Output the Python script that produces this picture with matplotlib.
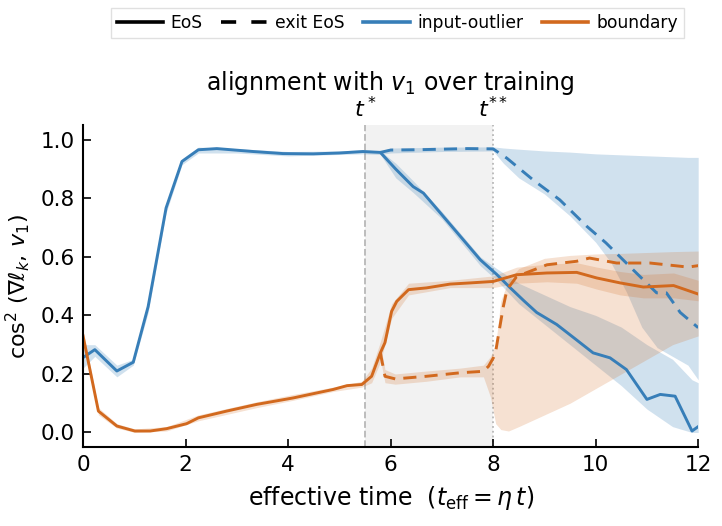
"""Alignment of per-sample gradients with the top Hessian direction over training."""
import matplotlib

matplotlib.use("Agg")
import matplotlib.pyplot as plt
from matplotlib.lines import Line2D

BLUE = "#377eb8"
ORANGE = "#d2691e"

T_STAR = 5.5
T_STAR2 = 8.0

# input-outlier, stays at EoS
blue_eos_x = [0, 0.23, 0.66, 0.98, 1.27, 1.62, 1.93, 2.25, 2.61, 3.32, 3.9, 4.49, 5.0,
              5.46, 5.8, 6.1, 6.44, 6.64, 7.0, 7.4, 7.75, 8.07, 8.33, 8.6, 8.85, 9.24,
              9.6, 9.95, 10.28, 10.6, 11.0, 11.26, 11.55, 11.88, 12.0]
blue_eos_y = [0.256, 0.283, 0.21, 0.24, 0.43, 0.767, 0.926, 0.966, 0.970, 0.960, 0.953,
              0.952, 0.955, 0.960, 0.957, 0.90, 0.84, 0.818, 0.744, 0.662, 0.59, 0.54,
              0.495, 0.45, 0.41, 0.369, 0.32, 0.272, 0.255, 0.215, 0.113, 0.13, 0.124,
              0.005, 0.02]
blue_eos_band_x = [0, 0.23, 0.66, 0.98, 1.27, 1.62, 1.93, 2.25, 3.0, 4.0, 5.0, 5.46, 5.8,
                   6.1, 6.44, 7.0, 7.75, 8.07, 8.5, 9.0, 9.5, 10.0, 10.5, 11.0, 11.5,
                   11.88, 12.0]
blue_eos_lo = [0.22, 0.26, 0.19, 0.23, 0.41, 0.75, 0.915, 0.955, 0.955, 0.945, 0.95,
               0.952, 0.95, 0.87, 0.82, 0.73, 0.57, 0.52, 0.44, 0.37, 0.30, 0.23, 0.16,
               0.08, 0.02, 0.0, 0.0]
blue_eos_hi = [0.30, 0.30, 0.23, 0.25, 0.45, 0.78, 0.935, 0.975, 0.97, 0.96, 0.962,
               0.966, 0.962, 0.92, 0.86, 0.755, 0.60, 0.56, 0.51, 0.47, 0.43, 0.40,
               0.36, 0.30, 0.25, 0.18, 0.17]

# input-outlier, exits EoS
blue_exit_x = [5.8, 6.0, 6.5, 7.0, 7.5, 8.0, 8.27, 8.78, 9.3, 9.83, 10.2, 10.73, 11.19,
               11.38, 11.65, 12.0]
blue_exit_y = [0.957, 0.965, 0.966, 0.968, 0.97, 0.969, 0.937, 0.863, 0.795, 0.704,
               0.648, 0.556, 0.477, 0.477, 0.41, 0.358]
blue_exit_band_x = [5.8, 6.0, 7.0, 8.0, 8.2, 8.5, 9.0, 9.5, 10.0, 10.3, 10.6, 10.9,
                    11.2, 11.5, 11.8, 12.0]
blue_exit_lo = [0.95, 0.955, 0.96, 0.962, 0.92, 0.87, 0.815, 0.74, 0.65, 0.58, 0.48,
                0.36, 0.29, 0.26, 0.23, 0.18]
blue_exit_hi = [0.96, 0.972, 0.975, 0.976, 0.972, 0.968, 0.962, 0.958, 0.952, 0.95,
                0.948, 0.946, 0.944, 0.942, 0.94, 0.94]

# boundary, stays at EoS
orange_eos_x = [0, 0.3, 0.66, 1.01, 1.31, 1.63, 2.02, 2.25, 2.8, 3.39, 4.1, 4.88, 5.15,
                5.44, 5.63, 5.8, 5.89, 6.02, 6.12, 6.35, 6.7, 7.16, 7.55, 8.0, 8.46,
                9.05, 9.63, 10.02, 10.48, 10.93, 11.52, 12.0]
orange_eos_y = [0.33, 0.073, 0.022, 0.005, 0.005, 0.013, 0.03, 0.05, 0.073, 0.096, 0.118,
                0.147, 0.16, 0.164, 0.192, 0.272, 0.307, 0.414, 0.448, 0.488, 0.494,
                0.507, 0.511, 0.516, 0.539, 0.545, 0.547, 0.528, 0.511, 0.497, 0.502,
                0.473]
orange_eos_band_x = [0, 0.3, 0.66, 1.01, 1.63, 2.25, 3.39, 4.1, 4.88, 5.44, 5.63, 5.8,
                     6.02, 6.35, 7.16, 8.0, 8.46, 9.05, 9.63, 10.02, 10.48, 10.93, 11.52,
                     12.0]
orange_eos_lo = [0.31, 0.06, 0.015, 0.0, 0.005, 0.04, 0.085, 0.11, 0.14, 0.155, 0.17,
                 0.24, 0.39, 0.47, 0.495, 0.495, 0.51, 0.515, 0.51, 0.49, 0.47, 0.46,
                 0.46, 0.45]
orange_eos_hi = [0.35, 0.085, 0.03, 0.012, 0.02, 0.06, 0.105, 0.13, 0.155, 0.175, 0.22,
                 0.31, 0.44, 0.51, 0.52, 0.535, 0.565, 0.575, 0.58, 0.565, 0.55, 0.54,
                 0.545, 0.52]

# boundary, exits EoS
orange_exit_x = [5.8, 5.89, 6.09, 6.7, 7.36, 7.81, 7.91, 8.04, 8.1, 8.2, 8.27, 8.46,
                 9.05, 9.63, 9.88, 10.41, 11.06, 11.65, 11.8, 12.0]
orange_exit_y = [0.272, 0.192, 0.183, 0.192, 0.204, 0.209, 0.226, 0.266, 0.329, 0.431,
                 0.488, 0.533, 0.573, 0.585, 0.596, 0.579, 0.579, 0.568, 0.565, 0.57]
orange_exit_band_x = [5.8, 5.89, 6.09, 6.7, 7.36, 7.81, 7.95, 8.05, 8.15, 8.3, 8.5, 9.0,
                      9.5, 10.0, 10.5, 11.0, 11.5, 12.0]
orange_exit_lo = [0.25, 0.17, 0.165, 0.175, 0.19, 0.19, 0.12, 0.03, 0.01, 0.005, 0.02,
                  0.06, 0.10, 0.15, 0.20, 0.25, 0.30, 0.33]
orange_exit_hi = [0.30, 0.215, 0.20, 0.21, 0.22, 0.23, 0.26, 0.30, 0.45, 0.52, 0.56,
                  0.595, 0.605, 0.61, 0.612, 0.615, 0.618, 0.62]

x_ticks = [0, 2, 4, 6, 8, 10, 12]
y_ticks = [0.0, 0.2, 0.4, 0.6, 0.8, 1.0]

DASH = (4.5, 2.8)

fig = plt.figure(figsize=(7.22, 5.26), dpi=100)
ax = fig.add_axes([0.115, 0.150, 0.852, 0.612])

ax.axvspan(T_STAR, T_STAR2, color="0.5", alpha=0.1, lw=0, zorder=0)
ax.axvline(T_STAR, color="0.72", ls="--", lw=1.3, zorder=1)
ax.axvline(T_STAR2, color="0.72", ls=":", lw=1.3, zorder=1)

ax.fill_between(blue_eos_band_x, blue_eos_lo, blue_eos_hi, color=BLUE, alpha=0.23, lw=0)
ax.fill_between(blue_exit_band_x, blue_exit_lo, blue_exit_hi, color=BLUE, alpha=0.23, lw=0)
ax.fill_between(orange_eos_band_x, orange_eos_lo, orange_eos_hi, color=ORANGE, alpha=0.2, lw=0)
ax.fill_between(orange_exit_band_x, orange_exit_lo, orange_exit_hi, color=ORANGE, alpha=0.2, lw=0)

ax.plot(blue_eos_x, blue_eos_y, color=BLUE, lw=2.1)
ax.plot(blue_exit_x, blue_exit_y, color=BLUE, lw=2.1, ls="--", dashes=DASH)
ax.plot(orange_eos_x, orange_eos_y, color=ORANGE, lw=2.1)
ax.plot(orange_exit_x, orange_exit_y, color=ORANGE, lw=2.1, ls="--", dashes=DASH)

ax.set_xlim(0, 12)
ax.set_ylim(-0.05, 1.05)
ax.set_xticks(x_ticks)
ax.set_yticks(y_ticks)
ax.tick_params(direction="in", length=6, width=1.2, labelsize=15.5, pad=6)
ax.spines[["top", "right"]].set_visible(False)
ax.spines[["left", "bottom"]].set_linewidth(1.5)

ax.set_xlabel(r"effective time  ($t_{\rm eff} = \eta\, t$)", fontsize=17, labelpad=6)
ax.set_ylabel(r"$\cos^2\,(\nabla\ell_k,\, v_1)$", fontsize=16, labelpad=6)
ax.set_title(r"alignment with $v_1$ over training", fontsize=17, pad=25)

trans = ax.get_xaxis_transform()
ax.text(T_STAR, 1.012, r"$t^*$", transform=trans, ha="center", va="bottom", fontsize=16)
ax.text(T_STAR2, 1.012, r"$t^{**}$", transform=trans, ha="center", va="bottom", fontsize=16)

handles = [
    Line2D([], [], color="black", lw=2.6),
    Line2D([], [], color="black", lw=2.6, ls="--", dashes=(4.2, 4.2)),
    Line2D([], [], color=BLUE, lw=2.6),
    Line2D([], [], color=ORANGE, lw=2.6),
]
labels = ["EoS", "exit EoS", "input-outlier", "boundary"]
fig.legend(handles, labels, loc="upper center", bbox_to_anchor=(0.55, 0.984), ncol=4,
           fontsize=12.3, fancybox=False, edgecolor="0.85", handlelength=2.7,
           handletextpad=0.45, columnspacing=1.1, borderpad=0.35, borderaxespad=0)

fig.savefig("out.png", dpi=100, facecolor="white")
